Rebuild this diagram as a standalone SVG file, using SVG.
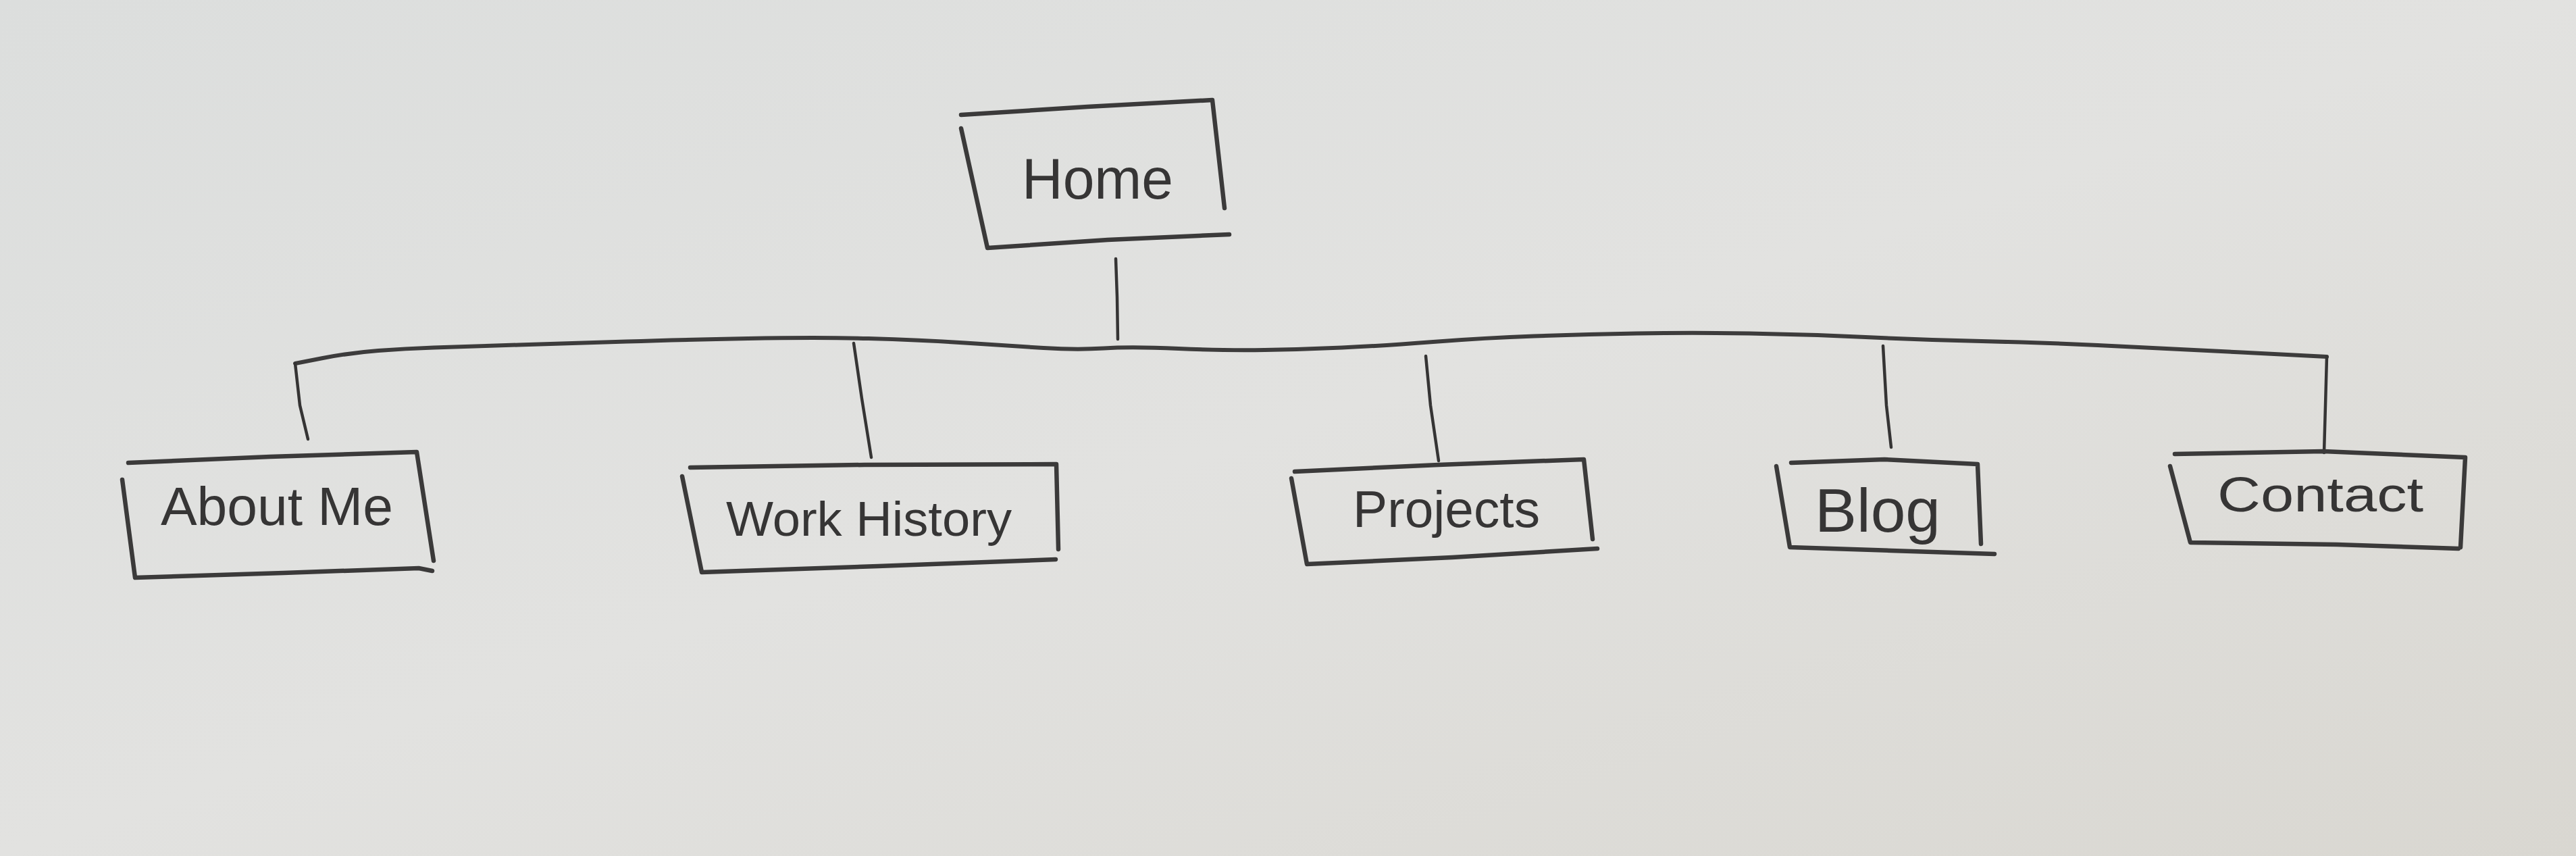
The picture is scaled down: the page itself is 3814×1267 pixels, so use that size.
<svg xmlns="http://www.w3.org/2000/svg" width="3814" height="1267" viewBox="0 0 3814 1267">
  <defs>
    <linearGradient id="paper" x1="0" y1="0" x2="1" y2="1">
      <stop offset="0" stop-color="#dcdedd"/>
      <stop offset="0.5" stop-color="#e2e2e0"/>
      <stop offset="1" stop-color="#d9d7d1"/>
    </linearGradient>
  </defs>
  <style>
    .box { fill: none; stroke: #3b3a3a; stroke-width: 6.5; stroke-linecap: round; stroke-linejoin: round; }
    .wire { fill: none; stroke: #3d3c3c; stroke-width: 6; stroke-linecap: round; stroke-linejoin: round; }
    .stem { fill: none; stroke: #353434; stroke-width: 4.5; stroke-linecap: round; stroke-linejoin: round; }
    .lbl { font-family: "Liberation Sans", Arial, sans-serif; fill: #363535; }
  </style>
  <rect x="0" y="0" width="3814" height="1267" fill="url(#paper)"/>

  <g id="connectors">
    <path class="wire" d="M437,538 L478,530 Q520,522 560,519 Q600,516 642,514.5 Q684,513 767,510.5 Q850,508 927.5,505.5 Q1005,503 1107.5,501 Q1210,499 1286,501 Q1362,503 1429,507.5 Q1496,512 1545,515 Q1594,518 1634.5,515.5 Q1675,513 1745,516 Q1815,519 1872.5,518 Q1930,517 1987,514.5 Q2044,512 2122,506 Q2200,500 2271.5,497.5 Q2343,495 2423.5,493.5 Q2504,492 2590,493.5 Q2676,495 2762,499 Q2848,503 2934,505 Q3020,507 3106,511 Q3192,515 3318.5,521.5 L3445,528"/>
    <polyline class="stem" points="1652,383 1654,440 1655,502"/>
    <polyline class="stem" points="437,538 444,600 456,650"/>
    <polyline class="stem" points="1264,508 1276,590 1290,677"/>
    <polyline class="stem" points="2111,527 2118,600 2130,682"/>
    <polyline class="stem" points="2788,512 2793,600 2800,662"/>
    <polyline class="stem" points="3445,528 3443,600 3441,670"/>
  </g>

  <g id="home">
    <path class="box" d="M1423,170 L1610,158 L1795,148 L1813,308 M1423,190 L1462,367 L1640,355 L1820,347"/>
    <text class="lbl" x="1513" y="294" font-size="86" textLength="224" lengthAdjust="spacingAndGlyphs">Home</text>
  </g>

  <g id="about-me">
    <path class="box" d="M190,685 L400,676 L617,669 L642,830 M181,710 L200,855 L420,848 L620,841 L640,845"/>
    <text class="lbl" x="238" y="777" font-size="80" textLength="344" lengthAdjust="spacingAndGlyphs">About Me</text>
  </g>

  <g id="work-history">
    <path class="box" d="M1022,692 L1280,688 L1564,687 L1567,813 M1010,705 L1039,847 L1300,838 L1563,828"/>
    <text class="lbl" x="1075" y="793" font-size="72" textLength="423" lengthAdjust="spacingAndGlyphs">Work History</text>
  </g>

  <g id="projects">
    <path class="box" d="M1917,698 L2130,688 L2345,680 L2358,798 M1912,708 L1935,835 L2150,825 L2365,812"/>
    <text class="lbl" x="2003" y="780" font-size="76" textLength="277" lengthAdjust="spacingAndGlyphs">Projects</text>
  </g>

  <g id="blog">
    <path class="box" d="M2652,685 L2790,680 L2928,687 L2933,805 M2630,690 L2650,810 L2800,815 L2953,820"/>
    <text class="lbl" x="2687" y="787" font-size="90" textLength="186" lengthAdjust="spacingAndGlyphs">Blog</text>
  </g>

  <g id="contact">
    <path class="box" d="M3220,672 L3440,668 L3650,677 L3643,810 M3213,690 L3243,803 L3460,806 L3640,812"/>
    <text class="lbl" x="3283" y="757" font-size="72" textLength="305" lengthAdjust="spacingAndGlyphs">Contact</text>
  </g>
</svg>
